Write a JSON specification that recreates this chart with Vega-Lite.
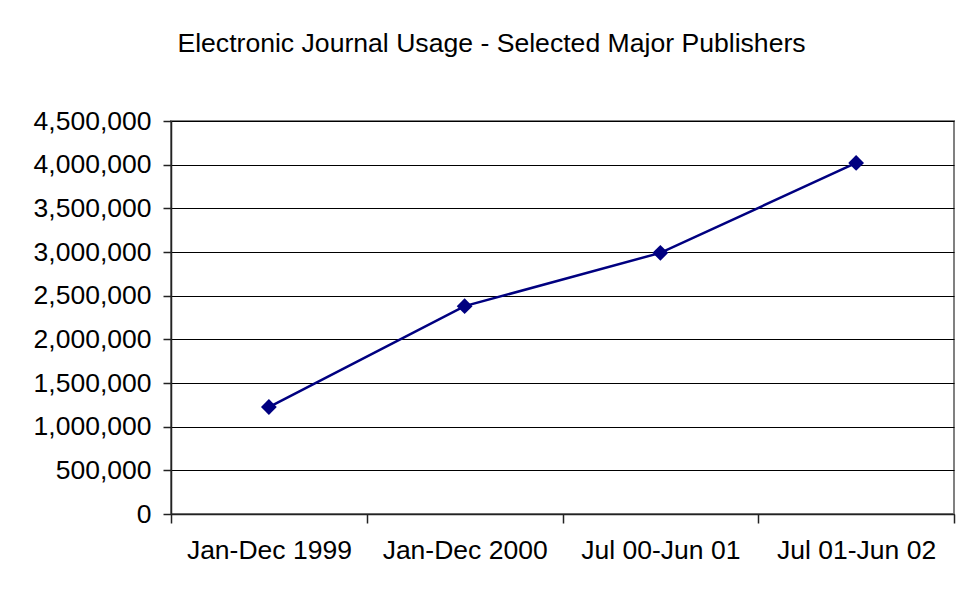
{
  "$schema": "https://vega.github.io/schema/vega-lite/v6.json",
  "width": 783,
  "height": 393,
  "autosize": {"type": "none"},
  "padding": {"left": 171, "top": 121, "right": 10, "bottom": 76},
  "background": "white",
  "title": {
    "text": "Electronic Journal Usage - Selected Major Publishers",
    "font": "Liberation Sans",
    "fontSize": 26.6,
    "fontWeight": "normal",
    "color": "black",
    "anchor": "middle",
    "dx": -71,
    "offset": 50
  },
  "config": {
    "view": {"stroke": "#808080", "strokeWidth": 2},
    "axis": {
      "labelFont": "Liberation Sans",
      "labelFontSize": 26.5,
      "labelColor": "black",
      "domainColor": "#222222",
      "domainWidth": 1.5,
      "tickColor": "#222222",
      "tickWidth": 1.5,
      "title": null
    }
  },
  "data": {
    "values": [
      {"period": "Jan-Dec 1999", "usage": 1225000},
      {"period": "Jan-Dec 2000", "usage": 2380000},
      {"period": "Jul 00-Jun 01", "usage": 2990000},
      {"period": "Jul 01-Jun 02", "usage": 4020000}
    ]
  },
  "encoding": {
    "x": {
      "field": "period",
      "type": "nominal",
      "sort": null,
      "scale": {"type": "band", "paddingInner": 0, "paddingOuter": 0},
      "axis": {"labelAngle": 0, "tickBand": "extent", "tickSize": 9, "labelPadding": 14, "grid": false, "title": null}
    },
    "y": {
      "field": "usage",
      "type": "quantitative",
      "scale": {"domain": [0, 4500000], "nice": false},
      "axis": {
        "values": [0, 500000, 1000000, 1500000, 2000000, 2500000, 3000000, 3500000, 4000000, 4500000],
        "format": ",.0f",
        "grid": true,
        "gridColor": "black",
        "gridWidth": 1,
        "gridOpacity": 1,
        "tickSize": 8,
        "labelPadding": 12,
        "title": null
      }
    }
  },
  "layer": [
    {"mark": {"type": "line", "color": "#000080", "strokeWidth": 2.5}},
    {"mark": {"type": "point", "shape": "diamond", "filled": true, "color": "#000080", "size": 250, "opacity": 1}}
  ]
}
